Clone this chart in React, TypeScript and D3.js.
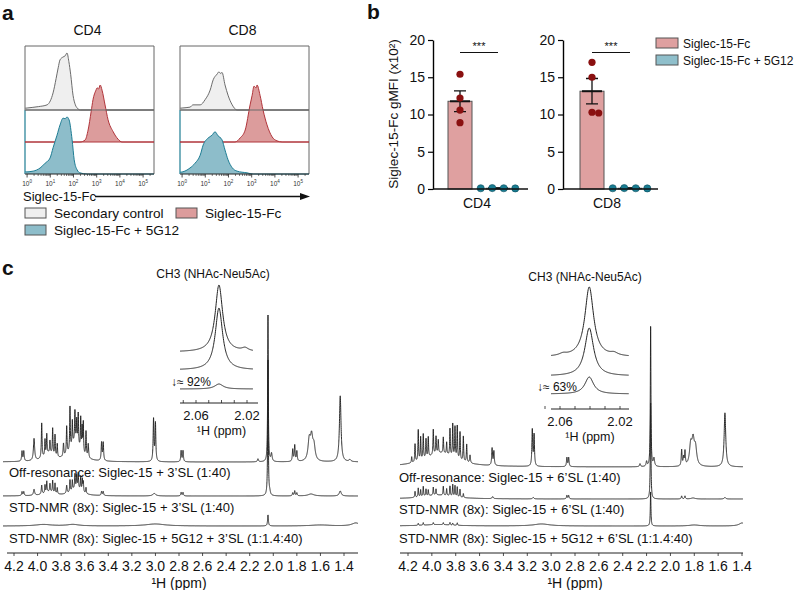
import { useEffect, useRef } from 'react';
import * as d3 from 'd3';

const FONT = '"Liberation Sans", Arial, Helvetica, sans-serif';

// ---------- panel a: flow histograms, [log10 fluorescence, % of mode]
const cd4Secondary = [[-0.09, 3], [0, 3.5], [0.5, 6], [0.86, 9], [1.0, 16], [1.12, 30], [1.25, 55], [1.34, 74], [1.42, 88], [1.55, 93], [1.64, 95], [1.72, 100], [1.8, 85], [1.88, 62], [1.98, 26], [2.08, 9], [2.16, 3.5], [2.3, 0], [5.47, 0]];
const cd4Fc = [[-0.09, 0], [2.28, 0], [2.5, 3.5], [2.63, 21], [2.76, 53], [2.84, 74], [2.97, 91], [3.02, 95], [3.08, 93], [3.15, 100], [3.23, 91], [3.36, 65], [3.49, 39], [3.71, 18], [3.92, 5], [4.09, 0], [5.47, 0]];
const cd4Fc5G12 = [[-0.09, 3.5], [0.26, 5], [0.56, 10.5], [0.78, 19], [0.99, 28], [1.12, 46], [1.29, 68], [1.42, 86], [1.55, 98], [1.64, 97], [1.72, 100], [1.81, 95], [1.94, 60], [2.03, 25], [2.16, 7], [2.28, 2], [2.59, 0], [5.47, 0]];
const cd8Secondary = [[-0.09, 3], [0, 3.5], [0.34, 5], [0.47, 9], [0.78, 9], [0.99, 18], [1.21, 35], [1.34, 53], [1.51, 63], [1.59, 67], [1.66, 64], [1.72, 66], [1.85, 44], [1.98, 26], [2.16, 9], [2.37, 0], [5.47, 0]];
const cd8Fc = [[-0.09, 0], [2.28, 0], [2.5, 7], [2.72, 21], [2.93, 65], [3.02, 82], [3.1, 98], [3.19, 95], [3.23, 100], [3.36, 82], [3.49, 56], [3.66, 30], [3.88, 9], [4.09, 2], [4.31, 0], [5.47, 0]];
const cd8Fc5G12 = [[-0.09, 3], [0, 3.5], [0.34, 10.5], [0.56, 19], [0.78, 33], [0.91, 51], [1.12, 63], [1.29, 68], [1.42, 74], [1.55, 67], [1.72, 60], [1.85, 42], [1.98, 25], [2.16, 11], [2.37, 5], [2.8, 2], [3.06, 0], [5.47, 0]];
const decades = [0, 1, 2, 3, 4, 5];

// ---------- panel b: gMFI (x10^2)
const groups = ['Siglec-15-Fc', 'Siglec-15-Fc + 5G12'];
const cd4Values = [[15.4, 12.2, 10.6, 8.9], [0.1, 0.12, 0.08, 0.1]];
const cd8Values = [[17.0, 15.0, 10.2, 10.3], [0.1, 0.08, 0.12, 0.1]];
const gmfiTicks = [0, 5, 10, 15, 20];

// ---------- panel c: 1H NMR peaks [ppm, intensity, half width]
const offres3SL = [
  [4.132, 10, 0.004], [4.117, 10, 0.004],
  [4.03, 22, 0.006], [3.965, 35, 0.0035], [3.937, 16, 0.003], [3.922, 20, 0.003], [3.895, 12, 0.003], [3.872, 26, 0.003], [3.852, 21, 0.003], [3.833, 13, 0.003],
  [3.9, 8, 0.05],
  [3.78, 13, 0.004], [3.753, 28, 0.0035], [3.725, 43, 0.003], [3.705, 24, 0.003], [3.683, 30, 0.003], [3.668, 22, 0.003], [3.655, 31, 0.003], [3.634, 32, 0.003], [3.622, 24, 0.003], [3.612, 31, 0.003], [3.589, 25, 0.003], [3.57, 14, 0.004],
  [3.68, 20, 0.05],
  [3.457, 18, 0.004], [3.443, 18, 0.004],
  [3.016, 42, 0.004], [3.0, 38, 0.004],
  [2.782, 11, 0.004], [2.766, 11, 0.004],
  [2.13, 3, 0.005],
  [2.045, 147, 0.003], [2.015, 8, 0.006],
  [1.835, 12, 0.004], [1.818, 16, 0.004], [1.8, 10, 0.004],
  [1.695, 20, 0.012], [1.675, 22, 0.012], [1.655, 14, 0.012],
  [1.432, 66, 0.008],
  [1.35, 2, 0.01],
];
const std3SL = [
  [4.132, 4, 0.004], [4.117, 4, 0.004],
  [4.03, 6, 0.006], [3.965, 9, 0.004], [3.937, 8, 0.003], [3.922, 11, 0.003], [3.895, 8, 0.003], [3.872, 12, 0.003], [3.852, 10, 0.003], [3.833, 6, 0.003],
  [3.9, 4, 0.05],
  [3.753, 8, 0.004], [3.725, 12, 0.003], [3.705, 10, 0.003], [3.683, 14, 0.003], [3.668, 12, 0.003], [3.655, 15, 0.003], [3.634, 14, 0.003], [3.62, 12, 0.003], [3.612, 10, 0.003], [3.589, 6, 0.003],
  [3.67, 8, 0.05],
  [3.457, 4, 0.004], [3.443, 4, 0.004],
  [3.01, 2.5, 0.015],
  [2.782, 3.5, 0.004], [2.766, 3.5, 0.004],
  [2.045, 136, 0.003], [2.03, 3, 0.006],
  [1.835, 3, 0.004], [1.818, 5, 0.004], [1.8, 3, 0.004],
  [1.68, 2, 0.03],
  [1.432, 5, 0.01],
];
const blocked3SL = [[3.95, 1.5, 0.08], [3.7, 1.5, 0.06], [3.0, 2, 0.1], [2.045, 11, 0.004], [1.6, 1, 0.1], [1.3, 3, 0.04]];

const offres6SL = [
  [4.169, 6, 0.003], [4.141, 18, 0.003], [4.114, 31, 0.003], [4.094, 23, 0.003], [4.072, 25, 0.003], [4.049, 19, 0.003], [4.03, 20, 0.003],
  [3.988, 25, 0.003], [3.965, 17, 0.003], [3.946, 13, 0.003], [3.904, 16, 0.003], [3.876, 12, 0.003], [3.848, 27, 0.003], [3.825, 33, 0.003],
  [3.806, 31, 0.003], [3.787, 33, 0.003], [3.764, 28, 0.003], [3.736, 25, 0.003], [3.708, 18, 0.003], [3.68, 8, 0.004],
  [3.93, 14, 0.15],
  [3.495, 17, 0.004], [3.48, 14, 0.004],
  [3.158, 36, 0.004], [3.143, 31, 0.004],
  [2.868, 9, 0.004], [2.853, 9, 0.004],
  [2.255, 3, 0.005], [2.2, 5, 0.005],
  [2.166, 140, 0.003], [2.138, 8, 0.006],
  [1.906, 16, 0.004], [1.89, 8, 0.004], [1.878, 14, 0.004],
  [1.83, 20, 0.012], [1.81, 23, 0.012], [1.79, 17, 0.012],
  [1.543, 54, 0.008],
];
const std6SL = [
  [4.141, 6, 0.003], [4.114, 9, 0.003], [4.094, 7, 0.003], [4.072, 10, 0.003], [4.049, 7, 0.003], [4.03, 6, 0.003], [3.988, 8, 0.003], [3.965, 6, 0.003],
  [3.904, 9, 0.003], [3.876, 7, 0.003], [3.848, 10, 0.003], [3.825, 12, 0.003], [3.806, 11, 0.003], [3.787, 10, 0.003], [3.764, 8, 0.003], [3.736, 4, 0.003],
  [3.95, 4, 0.15],
  [3.49, 2, 0.006], [3.15, 1.5, 0.006], [2.868, 3.5, 0.004], [2.853, 3.5, 0.004],
  [2.166, 96, 0.003],
  [1.906, 3, 0.004], [1.878, 3, 0.004], [1.81, 1, 0.02], [1.543, 1.5, 0.008],
];
const blocked6SL = [
  [4.114, 2, 0.003], [4.072, 2.5, 0.003], [3.988, 2, 0.003], [3.904, 2, 0.003], [3.848, 2.5, 0.003], [3.825, 2, 0.003], [3.787, 2.5, 0.003],
  [3.95, 1.5, 0.15], [3.08, 2, 0.08], [2.166, 34, 0.003], [1.8, 1, 0.05], [1.4, 3, 0.03],
];
// inset: CH3 (NHAc) region
const inset3SL = [
  [[2.042, 67, 0.0035], [2.0215, 3, 0.003]],
  [[2.042, 62, 0.0035]],
  [[2.042, 5, 0.004]],
];
const inset6SL = [
  [[2.0405, 70, 0.0035], [2.058, 2, 0.003], [2.024, 2.5, 0.003]],
  [[2.0405, 48, 0.0035]],
  [[2.0405, 17, 0.0035]],
];
const ppmTicks = [4.2, 4.0, 3.8, 3.6, 3.4, 3.2, 3.0, 2.8, 2.6, 2.4, 2.2, 2.0, 1.8, 1.6, 1.4];
const insetTicks = [2.07, 2.06, 2.05, 2.04, 2.03, 2.02];
const insetLabels = [2.06, 2.02];

const spectrum = (peaks, lo, hi, step) =>
  d3.range(hi, lo, -step).map((p) => {
    let v = 0;
    for (const [c, h, w] of peaks) v += (h * w * w) / ((p - c) * (p - c) + w * w);
    return [p, v];
  });

function drawPanelA(svg) {
  const g = svg.append('g');
  g.append('text').attr('x', 2).attr('y', 20).attr('font-size', 21).attr('font-weight', 'bold').text('a');
  const top = 46, bottom = 174, W = 129, peakH = 57;
  const panels = [
    { title: 'CD4', x0: 25, sets: [cd4Secondary, cd4Fc, cd4Fc5G12] },
    { title: 'CD8', x0: 180, sets: [cd8Secondary, cd8Fc, cd8Fc5G12] },
  ];
  const styles = [
    { base: 110, fill: '#efefef', stroke: '#6b6b6b' },
    { base: 142, fill: '#dc9c9c', stroke: '#b0343a' },
    { base: 174, fill: '#8dbdca', stroke: '#1d7c93' },
  ];
  panels.forEach((p) => {
    const x = d3.scaleLinear().domain([-0.09, 5.47]).range([p.x0, p.x0 + W]);
    g.append('text').attr('x', p.x0 + W / 2 - 2).attr('y', 35).attr('text-anchor', 'middle').attr('font-size', 14).text(p.title);
    g.append('path').attr('d', `M${p.x0},110V${top}H${p.x0 + W}V${bottom}`).attr('fill', 'none').attr('stroke', '#666').attr('stroke-width', 1);
    g.append('line').attr('x1', p.x0).attr('x2', p.x0).attr('y1', 110).attr('y2', bottom).attr('stroke', '#1d7c93').attr('stroke-width', 1.2);
    p.sets.forEach((data, i) => {
      const s = styles[i];
      const y = d3.scaleLinear().domain([0, 100]).range([s.base, s.base - peakH]);
      const area = d3.area().x((d) => x(d[0])).y0(s.base).y1((d) => y(d[1])).curve(d3.curveMonotoneX);
      const line = d3.line().x((d) => x(d[0])).y((d) => y(d[1])).curve(d3.curveMonotoneX);
      g.append('path').datum(data).attr('d', area).attr('fill', s.fill);
      g.append('path').datum(data).attr('d', line).attr('fill', 'none').attr('stroke', s.stroke).attr('stroke-width', 1);
      if (i === 1) {
        g.append('line').attr('x1', p.x0).attr('x2', p.x0 + W).attr('y1', styles[0].base).attr('y2', styles[0].base).attr('stroke', styles[0].stroke).attr('stroke-width', 1);
      }
      if (i < 2) {
        g.append('line').attr('x1', p.x0).attr('x2', p.x0 + W).attr('y1', s.base).attr('y2', s.base).attr('stroke', s.stroke).attr('stroke-width', 1);
      }
    });
    // axis
    g.append('line').attr('x1', p.x0).attr('x2', p.x0 + W).attr('y1', bottom).attr('y2', bottom).attr('stroke', '#222').attr('stroke-width', 1);
    decades.forEach((d) => {
      g.append('line').attr('x1', x(d)).attr('x2', x(d)).attr('y1', bottom).attr('y2', bottom + 3.5).attr('stroke', '#222').attr('stroke-width', 0.8);
      d3.range(2, 10).forEach((k) => {
        const v = d + Math.log10(k);
        if (v < 5.47) g.append('line').attr('x1', x(v)).attr('x2', x(v)).attr('y1', bottom).attr('y2', bottom + 2).attr('stroke', '#222').attr('stroke-width', 0.6);
      });
      const t = g.append('text').attr('x', x(d)).attr('y', 186).attr('text-anchor', 'middle').attr('font-size', 6.5).attr('fill', '#333');
      t.append('tspan').text('10');
      t.append('tspan').attr('dy', -3).attr('font-size', 4.5).text(d);
    });
  });
  // x label + arrow
  g.append('text').attr('x', 23).attr('y', 201).attr('font-size', 13).text('Siglec-15-Fc');
  g.append('line').attr('x1', 95).attr('x2', 302).attr('y1', 196.5).attr('y2', 196.5).attr('stroke', '#111').attr('stroke-width', 1.3);
  g.append('path').attr('d', 'M310,196.5L300,193L300,200Z').attr('fill', '#111');
  // legend
  const leg = [
    { label: 'Secondary control', fill: '#efefef', x: 25, y: 208 },
    { label: 'Siglec-15-Fc', fill: '#dc9c9c', x: 176, y: 208 },
    { label: 'Siglec-15-Fc + 5G12', fill: '#8dbdca', x: 25, y: 225 },
  ];
  leg.forEach((l) => {
    g.append('rect').attr('x', l.x).attr('y', l.y).attr('width', 21).attr('height', 10).attr('fill', l.fill).attr('stroke', '#555').attr('stroke-width', 1);
    g.append('text').attr('x', l.x + 29).attr('y', l.y + 10).attr('font-size', 13.6).text(l.label);
  });
}

function drawPanelB(svg) {
  const g = svg.append('g');
  g.append('text').attr('x', 367).attr('y', 19).attr('font-size', 21).attr('font-weight', 'bold').text('b');
  const y = d3.scaleLinear().domain([0, 20]).range([189, 40]);
  g.append('text').attr('transform', 'translate(398,114) rotate(-90)').attr('text-anchor', 'middle').attr('font-size', 13.5).text('Siglec-15-Fc gMFI (x10²)');
  const fills = ['#dfa0a0', '#8fbfcb'];
  const dots = ['#8a1010', '#1a7d92'];
  const plots = [
    { name: 'CD4', x0: 433, b0: 441, values: cd4Values },
    { name: 'CD8', x0: 563, b0: 573, values: cd8Values },
  ];
  plots.forEach((p) => {
    const x = d3.scaleBand().domain(groups).range([p.b0, p.b0 + 76]);
    const bw = 24;
    // axes
    const ax = g.append('g').attr('transform', `translate(${p.x0},0)`).call(d3.axisLeft(y).tickValues(gmfiTicks).tickSize(5).tickSizeOuter(0));
    ax.select('.domain').attr('stroke-width', 1.4);
    ax.selectAll('line').attr('stroke-width', 1.2);
    ax.selectAll('text').attr('font-size', 14).attr('font-family', FONT).attr('fill', '#111');
    groups.forEach((grp, i) => {
      const vals = p.values[i];
      const m = d3.mean(vals);
      const sem = d3.deviation(vals) / Math.sqrt(vals.length);
      const cx = x(grp) + x.bandwidth() / 2;
      g.append('rect').attr('x', cx - bw / 2).attr('y', y(m)).attr('width', bw).attr('height', y(0) - y(m)).attr('fill', fills[i]).attr('stroke', '#555').attr('stroke-width', 1);
      // error bar
      g.append('path').attr('d', `M${cx},${y(m - sem)}V${y(m + sem)}M${cx - 6},${y(m + sem)}H${cx + 6}M${cx - 6},${y(m - sem)}H${cx + 6}`).attr('stroke', '#111').attr('stroke-width', 1.3).attr('fill', 'none');
      g.append('line').attr('x1', cx - bw / 2 + 2).attr('x2', cx + bw / 2 - 2).attr('y1', y(m)).attr('y2', y(m)).attr('stroke', '#111').attr('stroke-width', 2);
      // simple swarm
      const r = 3.6;
      const placed = [];
      vals.map((v) => v).sort((a, b) => b - a).forEach((v) => {
        const py = y(v);
        let off = 0, k = 0;
        const hit = (o) => placed.some((q) => Math.hypot(q[0] - (cx + o), q[1] - py) < 2 * r - 0.5);
        while (hit(off)) { k += 1; off = (k % 2 ? 1 : -1) * Math.ceil(k / 2) * (i === 0 ? 2 * r - 0.5 : r * 1.6); }
        placed.push([cx + off, py]);
      });
      if (i === 1) {
        const mx = d3.mean(placed, (q) => q[0]);
        placed.forEach((q) => { q[0] += cx - mx; });
      }
      placed.forEach((q) => {
        g.append('circle').attr('cx', q[0]).attr('cy', q[1]).attr('r', r).attr('fill', dots[i]).attr('stroke', i === 1 ? '#0d4f5e' : 'none').attr('stroke-width', 0.6);
      });
    });
    g.append('line').attr('x1', p.x0).attr('x2', p.x0 + 95).attr('y1', y(0)).attr('y2', y(0)).attr('stroke', '#111').attr('stroke-width', 1.4);
    g.append('text').attr('x', p.x0 + 44).attr('y', 208).attr('text-anchor', 'middle').attr('font-size', 14).text(p.name);
    const c1 = x(groups[0]) + x.bandwidth() / 2, c2 = x(groups[1]) + x.bandwidth() / 2;
    g.append('line').attr('x1', c1).attr('x2', c2).attr('y1', 52.5).attr('y2', 52.5).attr('stroke', '#111').attr('stroke-width', 1);
    g.append('text').attr('x', (c1 + c2) / 2).attr('y', 50).attr('text-anchor', 'middle').attr('font-size', 11).text('***');
  });
  const leg = [
    { label: groups[0], fill: fills[0], y: 38 },
    { label: groups[1], fill: fills[1], y: 55 },
  ];
  leg.forEach((l) => {
    g.append('rect').attr('x', 656).attr('y', l.y).attr('width', 22).attr('height', 10).attr('fill', l.fill).attr('stroke', '#555').attr('stroke-width', 1);
    g.append('text').attr('x', 683).attr('y', l.y + 10).attr('font-size', 12).text(l.label);
  });
}

function drawSpectrum(g, cfg) {
  const x = d3.scaleLinear().domain([4.2, 1.4]).range(cfg.range);
  const [lo, hi] = [x.invert(cfg.end), x.invert(cfg.start)];
  cfg.traces.forEach((t) => {
    const y = d3.scaleLinear().domain([0, 100]).range([t.base, t.base - 100]);
    const line = d3.line().x((d) => x(d[0])).y((d) => y(d[1]));
    g.append('path').datum(spectrum(t.peaks, lo, hi, 0.0005)).attr('d', line).attr('fill', 'none').attr('stroke', '#222').attr('stroke-width', 0.95);
    g.append('text').attr('x', cfg.labelX).attr('y', t.labelY).attr('font-size', 13).text(t.label);
  });
  // main axis
  g.append('line').attr('x1', cfg.axis[0]).attr('x2', cfg.axis[1]).attr('y1', 553).attr('y2', 553).attr('stroke', '#222').attr('stroke-width', 1);
  ppmTicks.forEach((v) => {
    g.append('line').attr('x1', x(v)).attr('x2', x(v)).attr('y1', 553).attr('y2', 556).attr('stroke', '#222').attr('stroke-width', 0.8);
    g.append('text').attr('x', x(v)).attr('y', 571).attr('text-anchor', 'middle').attr('font-size', 14).text(v.toFixed(1));
  });
  g.append('text').attr('x', x(2.8)).attr('y', 588).attr('text-anchor', 'middle').attr('font-size', 14).text('¹H (ppm)');
  // inset
  const ins = cfg.inset;
  const xi = d3.scaleLinear().domain([2.06, 2.02]).range(ins.range);
  const [ilo, ihi] = [xi.invert(ins.traceEnd), xi.invert(ins.start)];
  ins.data.forEach((peaks, i) => {
    const y = d3.scaleLinear().domain([0, 100]).range([ins.bases[i], ins.bases[i] - 100]);
    const line = d3.line().x((d) => xi(d[0])).y((d) => y(d[1])).curve(d3.curveBasis);
    g.append('path').datum(spectrum(peaks, ilo, ihi, 0.0002)).attr('d', line).attr('fill', 'none').attr('stroke', '#222').attr('stroke-width', 1);
  });
  g.append('line').attr('x1', ins.start).attr('x2', ins.axisEnd).attr('y1', ins.axisY).attr('y2', ins.axisY).attr('stroke', '#222').attr('stroke-width', 1);
  insetTicks.forEach((v) => {
    g.append('line').attr('x1', xi(v)).attr('x2', xi(v)).attr('y1', ins.axisY).attr('y2', ins.axisY - 3).attr('stroke', '#222').attr('stroke-width', 0.8);
  });
  insetLabels.forEach((v) => {
    g.append('text').attr('x', xi(v)).attr('y', ins.axisY + 17).attr('text-anchor', 'middle').attr('font-size', 13).text(v.toFixed(2));
  });
  g.append('text').attr('x', xi(2.04)).attr('y', ins.axisY + 32).attr('text-anchor', 'middle').attr('font-size', 12.5).text('¹H (ppm)');
  g.append('text').attr('x', ins.titleX).attr('y', ins.titleY).attr('text-anchor', 'middle').attr('font-size', 12).text('CH3 (NHAc-Neu5Ac)');
  g.append('text').attr('x', ins.pctX).attr('y', ins.pctY).attr('font-size', 12).text(ins.pct);
}

function drawPanelC(svg) {
  const g = svg.append('g');
  g.append('text').attr('x', 2).attr('y', 275).attr('font-size', 21).attr('font-weight', 'bold').text('c');
  drawSpectrum(g, {
    range: [14, 344], start: 3, end: 358, axis: [7, 358], labelX: 9,
    traces: [
      { peaks: offres3SL, base: 462, labelY: 477, label: 'Off-resonance: Siglec-15 + 3’SL (1:40)' },
      { peaks: std3SL, base: 496, labelY: 512, label: 'STD-NMR (8x): Siglec-15 + 3’SL (1:40)' },
      { peaks: blocked3SL, base: 526, labelY: 543, label: 'STD-NMR (8x): Siglec-15 + 5G12 + 3’SL (1:1.4:40)' },
    ],
    inset: {
      data: inset3SL, range: [196, 247], start: 180, traceEnd: 253, axisEnd: 258, axisY: 403,
      bases: [352, 370, 389], titleX: 213, titleY: 278, pctX: 171, pctY: 386, pct: '↓≈ 92%',
    },
  });
  drawSpectrum(g, {
    range: [408, 742], start: 400, end: 743, axis: [400, 743], labelX: 399,
    traces: [
      { peaks: offres6SL, base: 467, labelY: 482, label: 'Off-resonance: Siglec-15 + 6’SL (1:40)' },
      { peaks: std6SL, base: 499, labelY: 514, label: 'STD-NMR (8x): Siglec-15 + 6’SL (1:40)' },
      { peaks: blocked6SL, base: 526, labelY: 543, label: 'STD-NMR (8x): Siglec-15 + 5G12 + 6’SL (1:1.4:40)' },
    ],
    inset: {
      data: inset6SL, range: [560, 620], start: 551, traceEnd: 629, axisEnd: 629, axisY: 409,
      bases: [357, 376, 394], titleX: 585, titleY: 281, pctX: 537, pctY: 391, pct: '↓≈ 63%',
    },
  });
}

const App = () => {
  const svgRef = useRef<SVGSVGElement>(null);

  useEffect(() => {
    const svg = d3.select(svgRef.current);
    svg.selectAll('*').remove();
    svg.attr('font-family', FONT).attr('fill', '#111');
    drawPanelA(svg);
    drawPanelB(svg);
    drawPanelC(svg);
  }, []);

  return (
    <div style={{ position: 'absolute', left: 0, top: 0 }}>
      <svg ref={svgRef} width={798} height={590} style={{ display: 'block', background: '#fff' }} />
    </div>
  );
};

export default App;
